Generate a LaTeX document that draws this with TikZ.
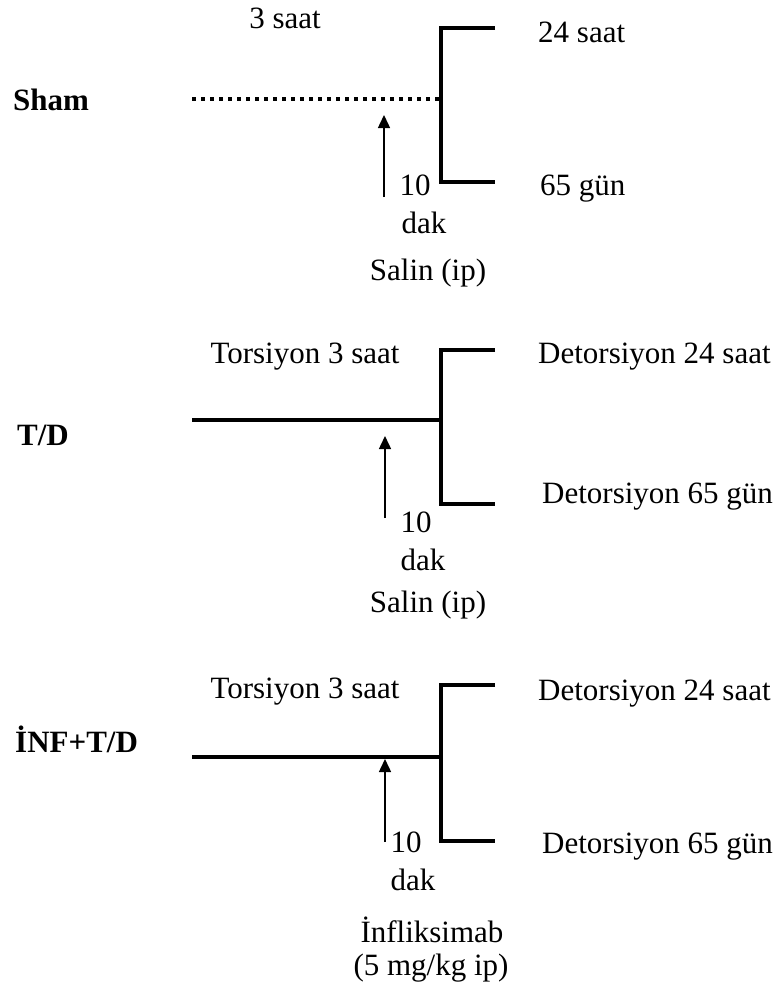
\documentclass[tikz,border=0pt]{standalone}
\usepackage{fontspec}
\setmainfont{Liberation Serif}
\usetikzlibrary{arrows.meta}

\begin{document}
\begin{tikzpicture}[x=1pt, y=-1pt,
  every node/.style={inner sep=0pt, font=\fontsize{31}{37}\selectfont},
  grouplabel/.style={anchor=base west, font=\fontsize{31}{37}\selectfont\bfseries},
  lefttext/.style={anchor=base west},
  midtext/.style={anchor=base},
  timeline/.style={line width=4.5pt},
  shamline/.style={line width=4.5pt, dash pattern=on 4pt off 5pt},
  bracketline/.style={line width=4.5pt},
  injection/.style={line width=1.5pt, -{Triangle[length=13pt,width=12pt]}}]

\useasboundingbox (0,0) rectangle (783,994);

% Sham
\begin{scope}

\coordinate (shamstart) at (192,99);
\coordinate (shamjoin) at (441,99);
\coordinate (shamtop) at (441,28);
\coordinate (shambot) at (441,182);
\coordinate (shamtopend) at (495,28);
\coordinate (shambotend) at (495,182);
\coordinate (shamfoot) at (384,197);
\coordinate (shamtip) at (384,115);

\draw[shamline] (shamstart)--(shamjoin);
\draw[bracketline] (shamtopend)--(shamtop)--(shambot)--(shambotend);
\draw[injection] (shamfoot)--(shamtip);

\node[grouplabel] (shamlabel) at (13,110) {Sham};
\node[midtext] (shamtime) at (285,28) {3 saat};
\node[lefttext] (shamearly) at (538,42) {24 saat};
\node[lefttext] (shamlate) at (540,195) {65 gün};
\node[midtext] (shamten) at (415,195) {10};
\node[midtext] (shamdak) at (424,233) {dak};
\node[midtext] (shamdrug) at (428,280) {Salin (ip)};

\end{scope}

% T/D
\begin{scope}

\coordinate (tdstart) at (192,420);
\coordinate (tdjoin) at (441,420);
\coordinate (tdtop) at (441,350);
\coordinate (tdbot) at (441,504);
\coordinate (tdtopend) at (495,350);
\coordinate (tdbotend) at (495,504);
\coordinate (tdfoot) at (385,518);
\coordinate (tdtip) at (385,436);

\draw[timeline] (tdstart)--(tdjoin);
\draw[bracketline] (tdtopend)--(tdtop)--(tdbot)--(tdbotend);
\draw[injection] (tdfoot)--(tdtip);

\node[grouplabel] (tdlabel) at (17,445) {T/D};
\node[midtext] (tdtime) at (305,363) {Torsiyon 3 saat};
\node[lefttext] (tdearly) at (538,363) {Detorsiyon 24 saat};
\node[lefttext] (tdlate) at (542,503) {Detorsiyon 65 gün};
\node[midtext] (tdten) at (416,532) {10};
\node[midtext] (tddak) at (423,570) {dak};
\node[midtext] (tddrug) at (428,612) {Salin (ip)};

\end{scope}

% INF+T/D
\begin{scope}

\coordinate (infstart) at (192,757);
\coordinate (infjoin) at (441,757);
\coordinate (inftop) at (441,685);
\coordinate (infbot) at (441,841);
\coordinate (inftopend) at (495,685);
\coordinate (infbotend) at (495,841);
\coordinate (inffoot) at (385,842);
\coordinate (inftip) at (385,759);

\draw[timeline] (infstart)--(infjoin);
\draw[bracketline] (inftopend)--(inftop)--(infbot)--(infbotend);
\draw[injection] (inffoot)--(inftip);

\node[grouplabel] (inflabel) at (15,752) {İNF+T/D};
\node[midtext] (inftime) at (305,698) {Torsiyon 3 saat};
\node[lefttext] (infearly) at (538,700) {Detorsiyon 24 saat};
\node[lefttext] (inflate) at (542,853) {Detorsiyon 65 gün};
\node[midtext] (inften) at (406,852) {10};
\node[midtext] (infdak) at (413,890) {dak};
\node[midtext] (infdrug) at (432,942) {İnfliksimab};
\node[midtext] (infdose) at (431,975) {(5 mg/kg ip)};

\end{scope}

\end{tikzpicture}
\end{document}
